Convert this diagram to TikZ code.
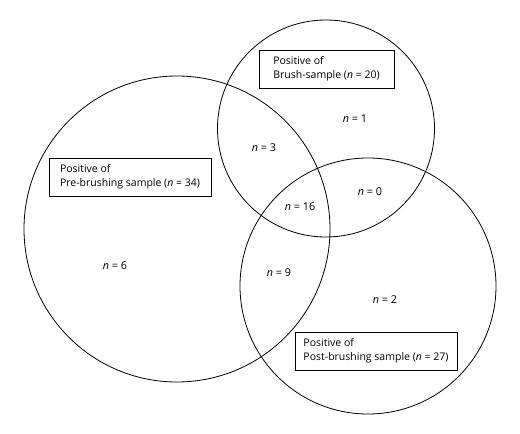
\documentclass[tikz,border=0pt]{standalone}
\usepackage{fontspec}
\setmainfont{Open Sans}
\begin{document}
\begin{tikzpicture}[x=1pt,y=-1pt,
  ring/.style={draw=black,line width=0.8pt},
  lbl/.style={draw=black,line width=0.8pt,fill=white,align=left,inner xsep=4pt,inner ysep=2pt,
    minimum height=38pt,font=\fontsize{10.5}{14}\selectfont},
  cnt/.style={font=\fontsize{10.8}{12}\selectfont,inner sep=1pt}]
\useasboundingbox (0,0) rectangle (520,434);
\node[ring,circle,minimum size=306pt,inner sep=0pt] (pre) at (177,229) {};
\node[ring,circle,minimum size=217pt,inner sep=0pt] (brush) at (326,128.5) {};
\node[ring,circle,minimum size=256pt,inner sep=0pt] (post) at (368,286) {};
\node[lbl,minimum width=162pt] (lpre) at (130,177) {Positive of\\Pre-brushing sample (\textit{n} = 34)};
\node[lbl,minimum width=135pt] (lbrush) at (326.5,69) {Positive of\\Brush-sample (\textit{n} = 20)};
\node[lbl,minimum width=162pt] (lpost) at (376,351) {Positive of\\Post-brushing sample (\textit{n} = 27)};
\node[cnt] (c1) at (355,119) {\textit{n} = 1};
\node[cnt] (c3) at (264,148) {\textit{n} = 3};
\node[cnt] (c16) at (300,207) {\textit{n} = 16};
\node[cnt] (c0) at (370,192) {\textit{n} = 0};
\node[cnt] (c9) at (279,273) {\textit{n} = 9};
\node[cnt] (c6) at (115,266) {\textit{n} = 6};
\node[cnt] (c2) at (385,300) {\textit{n} = 2};
\end{tikzpicture}
\end{document}
